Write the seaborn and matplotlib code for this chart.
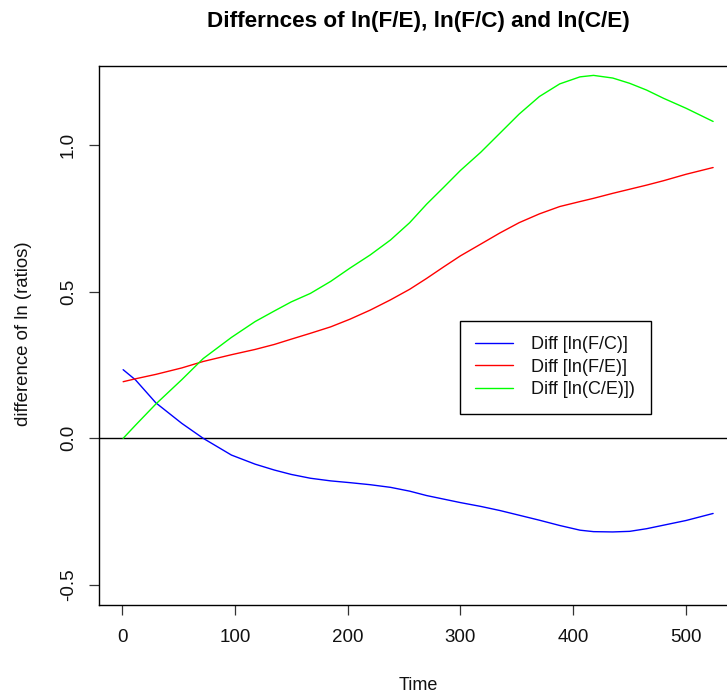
import matplotlib
matplotlib.use("Agg")
import matplotlib.pyplot as plt
import seaborn as sns
import pandas as pd

time = [1, 12, 30, 53, 72, 97, 118, 135, 150, 167, 185, 202, 220, 238, 255, 270,
        285, 300, 318, 335, 352, 370, 388, 406, 418, 435, 450, 465, 480, 500, 524]
diff_fc = [0.234, 0.199, 0.121, 0.051, 0.0, -0.057, -0.088, -0.108, -0.123, -0.136,
           -0.145, -0.151, -0.158, -0.167, -0.18, -0.195, -0.207, -0.219, -0.232,
           -0.246, -0.262, -0.279, -0.297, -0.313, -0.318, -0.319, -0.317, -0.308,
           -0.296, -0.28, -0.256]
diff_fe = [0.193, 0.203, 0.218, 0.240, 0.262, 0.285, 0.303, 0.320, 0.338, 0.358,
           0.380, 0.406, 0.437, 0.472, 0.508, 0.545, 0.584, 0.622, 0.662, 0.700,
           0.735, 0.765, 0.790, 0.807, 0.818, 0.835, 0.849, 0.863, 0.878, 0.900, 0.923]
diff_ce = [0.0, 0.045, 0.117, 0.20, 0.272, 0.344, 0.398, 0.434, 0.465, 0.494,
           0.535, 0.580, 0.625, 0.676, 0.735, 0.798, 0.855, 0.913, 0.975, 1.04,
           1.105, 1.165, 1.208, 1.232, 1.237, 1.228, 1.210, 1.187, 1.159, 1.125, 1.08]
series_names = ["Diff [ln(F/C)]", "Diff [ln(F/E)]", "Diff [ln(C/E)])"]
x_ticks = [0, 100, 200, 300, 400, 500]
y_ticks = [-0.5, 0.0, 0.5, 1.0]

sns.set_style("ticks")
plt.rcParams["font.family"] = ["Liberation Sans", "DejaVu Sans"]
plt.rcParams["text.color"] = "black"
plt.rcParams["axes.labelcolor"] = "black"

rows = []
for name, vals in zip(series_names, [diff_fc, diff_fe, diff_ce]):
    for t, v in zip(time, vals):
        rows.append({"Time": t, "value": v, "series": name})
df = pd.DataFrame(rows)

W, H = 727, 700
fig = plt.figure(figsize=(W / 100, H / 100), dpi=100)
ax = fig.add_axes([99 / W, 1 - 605 / H, (727 - 99) / W, (605 - 66) / H])

sns.lineplot(data=df, x="Time", y="value", hue="series", hue_order=series_names,
             palette=["#0000FF", "#FF0000", "#00FF00"], linewidth=1.0, ax=ax,
             estimator=None, sort=False)

ax.axhline(0, color="black", linewidth=1.0, zorder=0)
ax.set_xlim(-20.4, 536.3)
ax.set_ylim(-0.568, 1.269)
ax.set_xticks(x_ticks)
ax.set_xticklabels([str(v) for v in x_ticks])
ax.set_yticks(y_ticks)
ax.set_yticklabels([f"{v:.1f}" for v in y_ticks], rotation=90, va="center")
for s in ["left", "bottom", "top"]:
    ax.spines[s].set_visible(True)
    ax.spines[s].set_color("black")
    ax.spines[s].set_linewidth(1.0)
ax.spines["right"].set_visible(False)
ax.tick_params(axis="both", length=7, width=0.9, color="#333333", labelsize=13.5,
               labelcolor="#111111")
ax.tick_params(axis="x", pad=10)
ax.tick_params(axis="y", pad=9)
ax.set_xlabel("")
ax.set_ylabel("")

fig.text(418 / W, 1 - 21 / H, "Differnces of ln(F/E), ln(F/C) and ln(C/E)",
         ha="center", va="center", fontsize=16.2, fontweight="bold", color="black")
fig.text(418 / W, 1 - 686 / H, "Time", ha="center", va="center", fontsize=13,
         color="#111111")
fig.text(24 / W, 1 - 334 / H, "difference of ln (ratios)", ha="center", va="center",
         rotation=90, fontsize=13.4, color="#111111")

handles, labels = ax.get_legend_handles_labels()
leg = ax.legend(handles, labels, loc="upper left",
                bbox_to_anchor=((460 - 99) / (727 - 99), (605 - 321) / (605 - 66)),
                borderaxespad=0, frameon=True, fancybox=False, edgecolor="black",
                framealpha=1, fontsize=13, handlelength=2.1, handletextpad=1.0,
                labelspacing=0.3, borderpad=0.85)
leg.get_frame().set_linewidth(1.0)
for txt in leg.get_texts():
    txt.set_color("#111111")

fig.savefig("out.png", dpi=100)
